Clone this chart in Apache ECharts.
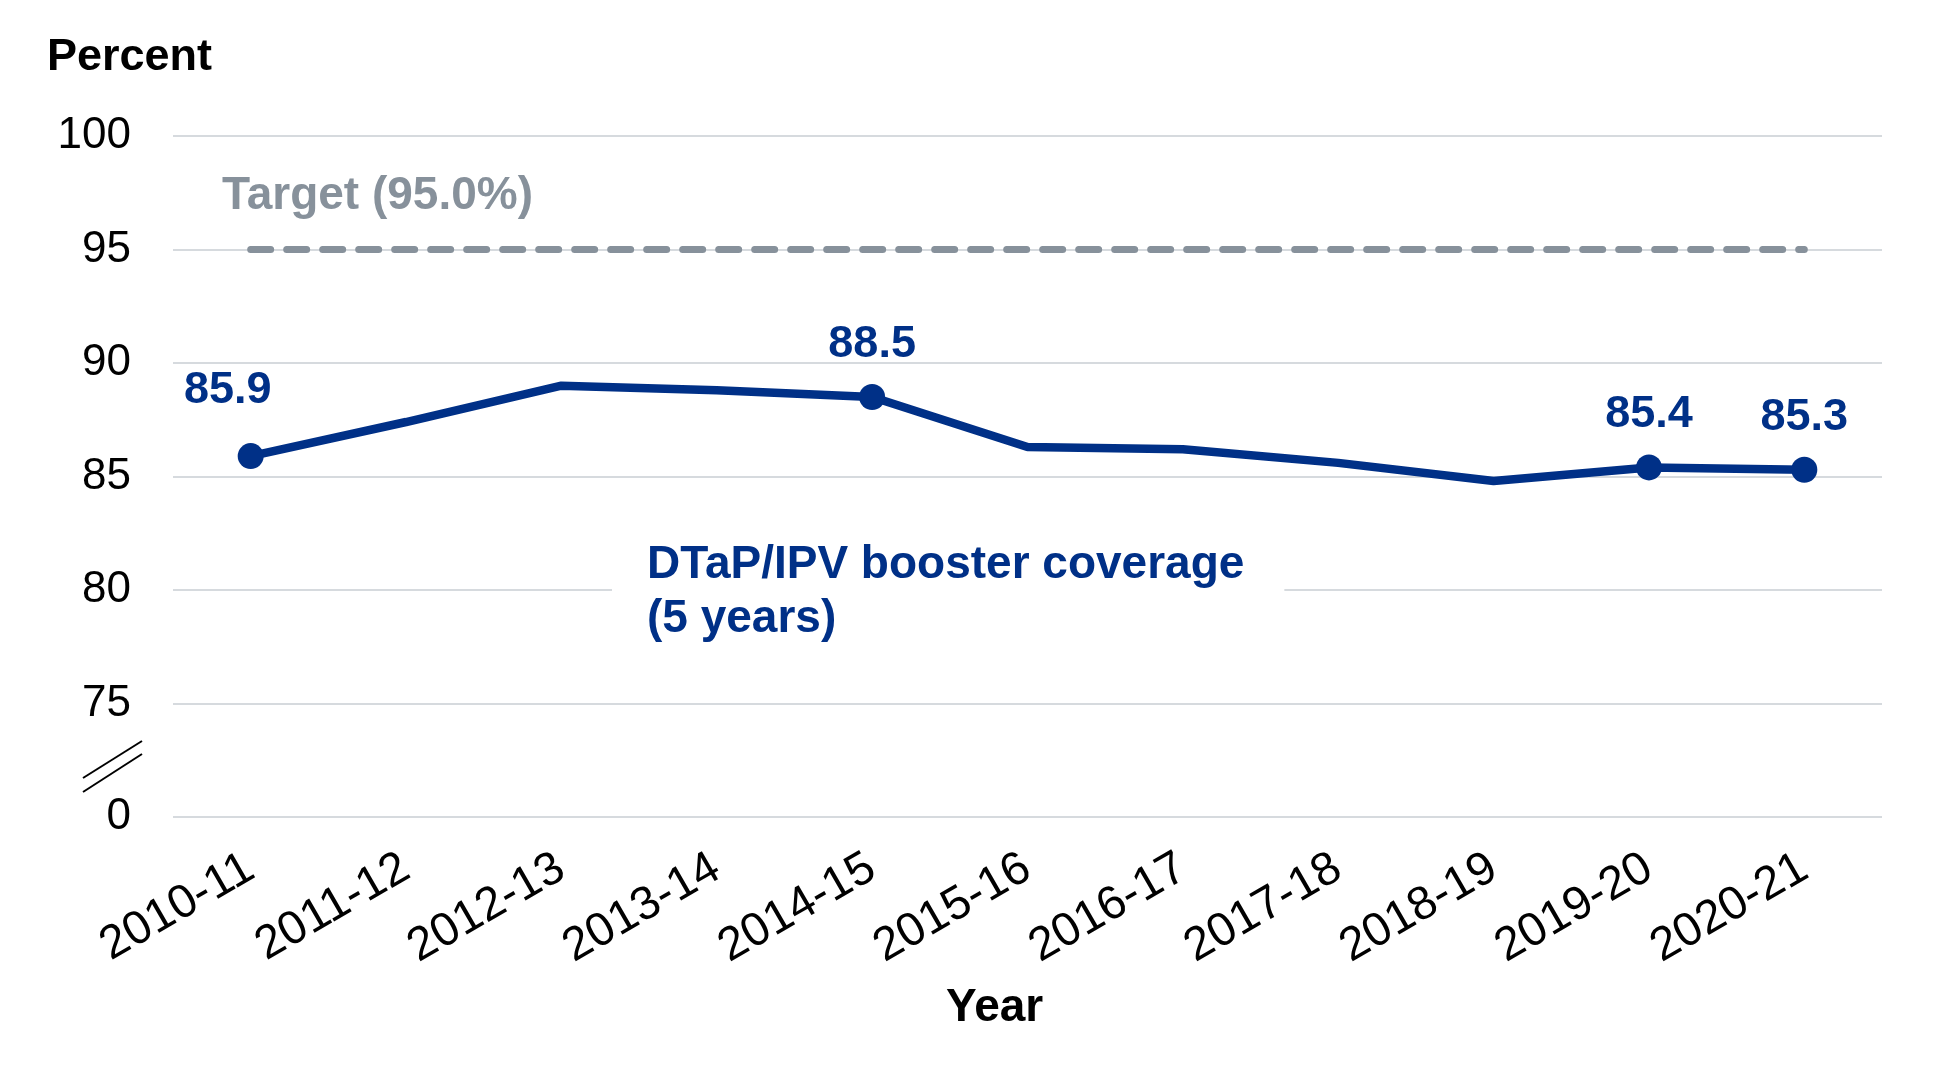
<!DOCTYPE html>
<html>
<head>
<meta charset="utf-8">
<script src="https://cdn.jsdelivr.net/npm/echarts@6/dist/echarts.min.js"></script>
<style>
  html, body { margin: 0; padding: 0; background: #fff; }
  #main { width: 1954px; height: 1067px; }
</style>
</head>
<body>
<div id="main"></div>
<script>
var years = ['2010-11','2011-12','2012-13','2013-14','2014-15','2015-16','2016-17','2017-18','2018-19','2019-20','2020-21'];
var coverage = [85.9, 87.4, 89.0, 88.8, 88.5, 86.3, 86.2, 85.6, 84.8, 85.4, 85.3];
var labelled = [0, 4, 9, 10];
var target = 95.0;
var yTicks = [70, 75, 80, 85, 90, 95, 100]; // 70 stands in for 0 (broken axis)

var font = '"Liberation Sans", Arial, sans-serif';
var blue = '#003087';
var grey = '#87919b';

var myChart = echarts.init(document.getElementById('main'));

var lineData = coverage.map(function (v, i) {
    var on = labelled.indexOf(i) >= 0;
    var item = { value: v, symbol: on ? 'circle' : 'none' };
    if (on) {
        item.label = { show: true };
        if (i === 0) item.label.offset = [-23, -13];
    }
    return item;
});

var option = {
    backgroundColor: '#fff',
    animation: false,
    grid: { left: 173, right: 72, top: 136, bottom: 250, containLabel: false },
    xAxis: {
        type: 'category',
        data: years,
        axisLine: { show: false },
        axisTick: { show: false },
        axisLabel: {
            rotate: 30,
            margin: 48,
            fontSize: 47,
            color: '#000',
            fontFamily: font,
            interval: 0
        }
    },
    yAxis: {
        type: 'value',
        min: yTicks[0],
        max: yTicks[yTicks.length - 1],
        interval: 5,
        axisLine: { show: false },
        axisTick: { show: false },
        splitLine: { lineStyle: { color: '#d6dade', width: 2 } },
        axisLabel: {
            margin: 42,
            fontSize: 44,
            color: '#000',
            fontFamily: font,
            formatter: function (v) { return v === 70 ? '0' : String(v); }
        }
    },
    series: [
        {
            name: 'Target',
            type: 'line',
            symbol: 'none',
            silent: true,
            lineStyle: { color: grey, width: 7, type: [20, 16], cap: 'round' },
            data: years.map(function () { return target; })
        },
        {
            name: 'DTaP/IPV booster coverage (5 years)',
            type: 'line',
            symbolSize: 26,
            itemStyle: { color: blue },
            lineStyle: { color: blue, width: 8.5 },
            label: {
                position: 'top',
                distance: 17,
                fontSize: 45,
                fontWeight: 'bold',
                color: blue,
                fontFamily: font,
                formatter: function (p) { return p.value.toFixed(1); }
            },
            data: lineData
        }
    ],
    graphic: [
        {
            type: 'text', left: 47, top: 35,
            style: { text: 'Percent', fill: '#000', font: 'bold 45px ' + font }
        },
        {
            type: 'text', left: 222, top: 173,
            style: { text: 'Target (95.0%)', fill: grey, font: 'bold 46px ' + font }
        },
        {
            type: 'text', left: 612, top: 538, z: 100,
            style: {
                text: 'DTaP/IPV booster coverage\n(5 years)',
                fill: blue, font: 'bold 46px ' + font, lineHeight: 54,
                backgroundColor: '#fff', padding: [0, 40, 0, 35]
            }
        },
        {
            type: 'text', left: 946, top: 985,
            style: { text: 'Year', fill: '#000', font: 'bold 46px ' + font }
        },
        {
            type: 'line', shape: { x1: 83, y1: 778, x2: 142, y2: 741 },
            style: { stroke: '#000', lineWidth: 2 }
        },
        {
            type: 'line', shape: { x1: 83, y1: 792, x2: 142, y2: 754 },
            style: { stroke: '#000', lineWidth: 2 }
        }
    ]
};

myChart.setOption(option);
</script>
</body>
</html>
